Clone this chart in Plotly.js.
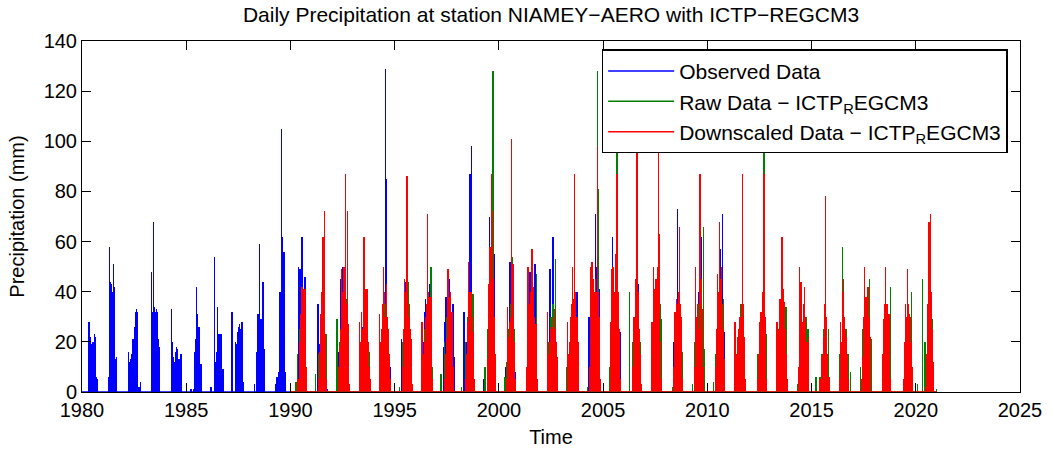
<!DOCTYPE html>
<html>
<head>
<meta charset="utf-8">
<script src="https://cdn.plot.ly/plotly-3.0.1.min.js"></script>
<style>
html,body{margin:0;padding:0;background:#fff;}
#chart{width:1052px;height:449px;}
</style>
</head>
<body>
<div id="chart"></div>
<script>
// Observed daily precipitation (mm) – rain days
const obsDate = [
1980.33,1980.37,1980.41,1980.45,1980.49,1980.53,1980.57,1980.61,1980.65,1980.69,1980.73,
1981.28,1981.33,1981.36,1981.40,1981.43,1981.46,1981.50,1981.53,1981.57,1981.62,1981.67,
1982.24,1982.29,1982.33,1982.37,1982.41,1982.45,1982.48,1982.53,1982.57,1982.60,1982.63,1982.66,1982.74,1982.80,
1983.32,1983.35,1983.38,1983.43,1983.46,1983.49,1983.53,1983.56,1983.59,1983.62,1983.67,1983.72,
1984.30,1984.34,1984.37,1984.41,1984.44,1984.48,1984.52,1984.55,1984.59,1984.62,1984.66,1984.72,1984.77,
1985.23,1985.36,1985.41,1985.46,1985.50,1985.55,1985.58,1985.62,1985.65,1985.71,
1986.19,1986.37,1986.41,1986.46,1986.51,1986.54,1986.58,1986.62,1986.66,1986.70,1986.76,1986.80,
1987.20,1987.37,1987.42,1987.46,1987.51,1987.55,1987.61,1987.68,1987.74,
1988.28,1988.40,1988.45,1988.48,1988.52,1988.56,1988.59,1988.64,1988.69,1988.73,1988.76,
1989.28,1989.36,1989.42,1989.47,1989.52,1989.58,1989.63,1989.66,1989.69,1989.75,
1990.33,1990.39,1990.46,1990.51,1990.55,1990.59,1990.62,1990.66,1990.73,1990.78,
1991.32,1991.39,1991.45,1991.52,1991.58,1991.65,1991.72,1991.75,
1992.31,1992.35,1992.39,1992.45,1992.52,1992.58,1992.64,1992.70,
1993.30,1993.47,1993.55,1993.62,1993.68,1993.75,
1994.30,1994.36,1994.42,1994.48,1994.55,1994.61,1994.65,1994.69,1994.75,1994.80,
1995.32,1995.38,1995.43,1995.48,1995.52,1995.58,1995.64,1995.70,1995.75,
1996.38,1996.42,1996.47,1996.52,1996.58,1996.62,1996.66,1996.72,1996.78,1996.82,
1997.34,1997.41,1997.46,1997.52,1997.57,1997.62,1997.68,1997.74,1997.80,1997.87,
1998.32,1998.38,1998.44,1998.49,1998.54,1998.61,1998.65,1998.70,1998.75,1998.81,
1999.28,1999.44,1999.50,1999.55,1999.60,1999.66,1999.72,1999.77,1999.82,
2000.34,2000.40,2000.46,2000.54,2000.59,2000.64,2000.69,2000.73,2000.79,
2001.34,2001.42,2001.50,2001.56,2001.63,2001.69,2001.74,2001.80,
2002.40,2002.46,2002.52,2002.59,2002.64,2002.68,2002.74,2002.81,
2003.42,2003.48,2003.55,2003.62,2003.68,2003.75,2003.80,
2004.33,2004.40,2004.47,2004.55,2004.62,2004.68,2004.75,2004.81,
2005.35,2005.46,2005.52,2005.60,2005.68,2005.75,2005.82,
2006.45,2006.52,2006.60,2006.69,2006.75,
2007.40,2007.50,2007.58,2007.65,2007.73,
2008.40,2008.48,2008.58,2008.64,2008.70,2008.76,
2009.38,2009.45,2009.51,2009.57,2009.63,2009.68,2009.73,2009.78,
2010.42,2010.48,2010.55,2010.62,2010.67,2010.73,2010.81
];
const obsMm = [
28,21,22,19,18,20,19,23,22,6,5,
6,58,44,43,39,40,51,42,40,13,14,
16,12,13,15,15,21,21,26,32,33,30,32,2,4,
48,28,32,68,32,34,32,33,32,31,21,18,
33,20,14,12,12,16,18,17,12,10,13,15,15,
1,1,16,21,42,31,26,26,15,11,
2,54,12,16,34,23,23,22,23,9,9,9,
32,20,19,24,26,27,25,28,4,
3,16,31,31,59,29,29,28,44,17,6,
3,6,8,40,40,105,62,30,56,8,
12,50,49,49,62,40,37,46,46,5,
35,19,20,30,25,20,14,1,
16,20,45,30,50,30,25,10,
5,26,25,20,25,18,
10,25,20,30,129,85,30,24,15,10,
21,8,10,25,44,30,20,15,23,
20,32,37,25,30,25,43,20,15,10,
18,28,38,30,35,45,30,25,35,14,
32,16,20,30,52,87,45,98,25,1,
5,18,28,70,40,35,30,55,10,
10,15,20,52,30,44,25,16,8,
5,30,48,35,42,30,51,10,
20,49,30,62,30,24,15,2,
24,20,30,35,30,40,10,
30,25,30,40,71,50,40,41,
20,62,35,40,45,30,24,
20,25,30,43,20,
20,30,35,30,22,
20,30,73,40,25,15,
14,25,30,40,35,30,62,20,
13,25,35,57,40,71,24
];

// Raw RegCM3 daily precipitation (mm)
const rawDate = [
1990.27,1990.35,1990.45,1990.55,1990.65,1990.72,
1991.19,1991.35,1991.45,1991.55,1991.64,1991.72,
1992.23,1992.35,1992.45,1992.55,1992.64,1992.70,1992.76,
1993.35,1993.45,1993.52,1993.59,1993.66,1993.72,1993.77,
1994.36,1994.45,1994.55,1994.62,1994.68,1994.74,
1995.24,1995.40,1995.50,1995.57,1995.64,1995.70,1995.76,
1996.35,1996.45,1996.55,1996.65,1996.74,1996.80,
1997.22,1997.40,1997.50,1997.60,1997.68,1997.75,
1998.22,1998.40,1998.50,1998.60,1998.68,1998.75,
1999.34,1999.45,1999.55,1999.63,1999.71,1999.76,
2000.29,2000.35,2000.45,2000.55,2000.65,2000.72,
2001.40,2001.50,2001.60,2001.70,2001.79,
2002.40,2002.50,2002.60,2002.67,2002.73,2002.80,
2003.27,2003.40,2003.50,2003.60,2003.68,2003.75,
2004.25,2004.40,2004.50,2004.60,2004.68,2004.74,2004.77,
2005.30,2005.40,2005.50,2005.60,2005.67,2005.70,2005.74,
2006.28,2006.40,2006.50,2006.60,2006.68,2006.77,
2007.35,2007.45,2007.55,2007.65,2007.74,2007.81,
2008.32,2008.42,2008.52,2008.62,2008.72,2008.82,
2009.30,2009.40,2009.50,2009.60,2009.70,2009.81,2009.85,
2010.29,2010.40,2010.50,2010.60,2010.68,2010.77,
2011.35,2011.45,2011.55,2011.62,2011.72,2011.78,
2012.40,2012.50,2012.60,2012.72,2012.75,2012.81,
2013.33,2013.45,2013.55,2013.65,2013.72,2013.78,
2014.31,2014.42,2014.52,2014.62,2014.70,2014.76,2014.83,
2015.21,2015.40,2015.50,2015.60,2015.70,2015.80,
2016.35,2016.47,2016.55,2016.65,2016.75,2016.88,
2017.35,2017.45,2017.55,2017.65,2017.77,2017.85,
2018.41,2018.50,2018.58,2018.66,2018.72,2018.79,
2019.40,2019.50,2019.58,2019.66,2019.73,2019.80,
2020.09,2020.33,2020.45,2020.55,2020.65,2020.72,2020.79,2020.99
];
const rawMm = [
4,15,25,30,28,10,
7,15,25,35,30,23,
29,20,30,40,35,37,20,
10,25,30,40,30,20,16,
4,20,35,30,20,11,
2,20,30,47,44,20,10,
15,25,30,35,50,10,
7,20,30,35,30,23,
2,20,30,35,30,39,
10,25,35,40,128,30,
6,12,25,35,54,25,
20,30,35,30,47,
20,30,35,30,53,10,
10,20,30,35,30,25,
2,20,30,40,35,128,81,
10,20,30,35,112,72,40,
40,20,30,35,30,20,
15,25,35,30,35,29,
2,20,30,30,35,16,
3,20,30,35,35,66,17,
4,15,30,35,35,37,
15,20,30,35,15,5,
15,20,25,105,30,23,
4,20,30,35,30,34,
3,20,30,30,25,30,25,
6,6,15,25,30,25,
15,58,30,25,15,8,
10,25,30,30,45,21,
4,25,30,30,25,42,
5,20,30,30,25,40,
3,45,20,30,35,30,29,1
];

// Downscaled RegCM3 daily precipitation (mm)
const dsDate = [
1990.36,1990.43,1990.47,1990.51,1990.55,1990.59,1990.62,1990.66,1990.70,1990.75,
1991.36,1991.40,1991.43,1991.47,1991.51,1991.56,1991.60,1991.64,1991.69,1991.74,
1992.30,1992.34,1992.40,1992.45,1992.49,1992.53,1992.57,1992.60,1992.63,1992.67,1992.71,1992.74,1992.79,1992.84,
1993.32,1993.37,1993.41,1993.45,1993.49,1993.53,1993.57,1993.62,1993.66,1993.69,1993.74,1993.78,1993.83,
1994.28,1994.33,1994.38,1994.42,1994.47,1994.51,1994.55,1994.60,1994.64,1994.68,1994.72,1994.77,
1995.38,1995.42,1995.47,1995.51,1995.55,1995.59,1995.62,1995.65,1995.70,1995.75,1995.80,1995.85,
1996.31,1996.37,1996.42,1996.47,1996.52,1996.58,1996.62,1996.66,1996.69,1996.73,1996.77,1996.82,
1997.42,1997.47,1997.51,1997.56,1997.60,1997.63,1997.67,1997.71,1997.75,1997.80,
1998.40,1998.44,1998.48,1998.54,1998.58,1998.62,1998.66,1998.70,1998.74,1998.78,1998.82,
1999.45,1999.49,1999.52,1999.55,1999.58,1999.63,1999.66,1999.69,1999.73,1999.77,1999.82,
2000.37,2000.41,2000.46,2000.51,2000.56,2000.61,2000.64,2000.67,2000.71,2000.76,2000.81,
2001.35,2001.39,2001.43,2001.47,2001.52,2001.55,2001.58,2001.63,2001.67,2001.72,2001.78,2001.83,
2002.33,2002.38,2002.43,2002.48,2002.52,2002.57,2002.62,2002.66,2002.71,2002.75,2002.79,
2003.29,2003.35,2003.40,2003.45,2003.49,2003.53,2003.58,2003.62,2003.66,2003.69,2003.74,2003.78,2003.82,
2004.35,2004.39,2004.43,2004.47,2004.51,2004.55,2004.60,2004.64,2004.69,2004.73,2004.77,2004.81,2004.86,
2005.34,2005.39,2005.43,2005.48,2005.53,2005.57,2005.62,2005.66,2005.69,2005.74,2005.78,2005.83,
2006.40,2006.45,2006.49,2006.53,2006.57,2006.62,2006.65,2006.69,2006.72,2006.77,2006.82,
2007.34,2007.38,2007.41,2007.45,2007.49,2007.53,2007.58,2007.62,2007.65,2007.68,2007.72,2007.76,2007.80,
2008.40,2008.45,2008.49,2008.53,2008.57,2008.62,2008.66,2008.70,2008.73,2008.77,2008.82,
2009.40,2009.44,2009.48,2009.52,2009.57,2009.61,2009.65,2009.69,2009.72,2009.75,2009.80,
2010.40,2010.44,2010.48,2010.52,2010.57,2010.61,2010.64,2010.67,2010.71,2010.75,2010.80,
2011.33,2011.38,2011.44,2011.49,2011.54,2011.59,2011.65,2011.70,2011.73,2011.76,2011.81,
2012.40,2012.45,2012.49,2012.53,2012.57,2012.60,2012.63,2012.67,2012.72,2012.76,2012.81,
2013.35,2013.40,2013.44,2013.48,2013.52,2013.55,2013.59,2013.63,2013.66,2013.71,2013.76,2013.80,2013.85,
2014.38,2014.43,2014.49,2014.52,2014.55,2014.60,2014.65,2014.68,2014.72,2014.77,2014.82,2014.86,
2015.40,2015.47,2015.52,2015.56,2015.60,2015.64,2015.68,2015.73,2015.78,2015.84,
2016.35,2016.39,2016.43,2016.47,2016.52,2016.57,2016.61,2016.65,2016.70,2016.76,
2017.40,2017.45,2017.49,2017.53,2017.57,2017.61,2017.65,2017.70,2017.75,2017.79,2017.83,
2018.40,2018.43,2018.47,2018.51,2018.55,2018.59,2018.63,2018.67,2018.71,2018.75,2018.80,
2019.43,2019.47,2019.51,2019.56,2019.61,2019.65,2019.68,2019.72,2019.75,2019.80,2019.85,
2020.43,2020.51,2020.55,2020.60,2020.64,2020.67,2020.71,2020.75,2020.79,2020.83
];
const dsMm = [
5,20,31,30,42,35,41,38,41,10,
5,16,31,30,40,62,45,72,23,5,
10,18,25,49,40,45,50,40,87,30,35,72,27,3,
28,20,32,25,30,62,35,41,38,41,20,10,5,
31,20,25,35,50,40,30,43,30,25,15,5,
10,25,45,35,40,86,40,30,35,25,21,3,
28,15,20,30,35,71,40,35,38,30,38,5,
5,15,21,49,38,35,40,30,32,10,
5,15,28,52,40,35,40,40,30,24,5,
13,30,43,45,58,87,50,72,45,30,15,
5,34,22,28,30,101,40,51,30,20,5,
10,50,30,35,40,45,57,42,35,30,27,5,
32,15,20,25,26,26,30,33,25,20,14,
28,15,20,30,35,50,37,87,40,36,30,25,20,
10,50,40,52,45,35,40,45,40,98,40,30,5,
28,20,49,50,35,40,55,87,71,40,25,5,
10,25,30,29,45,105,78,40,25,15,3,
28,20,50,35,41,45,40,50,100,63,35,20,5,
10,32,30,37,35,40,66,35,30,20,5,
10,50,30,35,25,40,87,45,35,33,10,
10,25,47,40,68,45,40,50,35,25,13,
28,15,22,25,30,35,30,87,35,22,5,
5,15,28,25,32,30,27,40,87,30,5,
28,15,25,37,30,35,62,40,41,36,25,15,5,
10,50,44,35,28,35,42,30,25,20,20,22,
5,14,15,20,22,35,78,30,15,6,
5,28,20,40,45,30,25,22,15,5,
5,14,30,50,35,38,30,42,30,25,22,
5,15,29,35,50,35,35,30,31,20,5,
5,20,35,30,49,35,31,30,26,20,10,
2,15,35,30,68,50,71,40,25,12
];

const seriesNames = ['Observed Data', 'Raw Data \u2212 ICTP<sub>R</sub>EGCM3', 'Downscaled Data \u2212 ICTP<sub>R</sub>EGCM3'];
const seriesColors = ['#0000ff', '#008000', '#ff0000'];
const xTicks = [1980, 1985, 1990, 1995, 2000, 2005, 2010, 2015, 2020, 2025];
const yTicks = [0, 20, 40, 60, 80, 100, 120, 140];

const series = [[obsDate, obsMm], [rawDate, rawMm], [dsDate, dsMm]];
const traces = [];
series.forEach(function (s, i) {
  traces.push({
    type: 'bar', x: s[0], y: s[1], width: 0.065,
    marker: {color: seriesColors[i], line: {width: 0}},
    showlegend: false, hoverinfo: 'skip'
  });
});
series.forEach(function (s, i) {
  const lo = Math.floor(Math.min.apply(null, s[0]));
  const hi = Math.ceil(Math.max.apply(null, s[0]));
  traces.push({
    type: 'scatter', mode: 'lines', x: [lo, hi], y: [0, 0],
    line: {color: seriesColors[i], width: 1.5},
    name: seriesNames[i], hoverinfo: 'skip'
  });
});

const axisCommon = {
  ticks: 'inside', ticklen: 9, tickwidth: 1, tickcolor: '#000',
  showline: true, linecolor: '#000', linewidth: 1, mirror: 'ticks',
  showgrid: false, zeroline: false, tickfont: {size: 20, color: '#000'}
};

const layout = {
  width: 1052, height: 449,
  margin: {l: 82, r: 32, t: 41, b: 57},
  paper_bgcolor: '#ffffff', plot_bgcolor: '#ffffff',
  font: {family: 'Liberation Sans, Arial, Helvetica, sans-serif', size: 20, color: '#000'},
  title: {text: 'Daily Precipitation at station NIAMEY\u2212AERO with ICTP\u2212REGCM3',
          xref: 'paper', x: 0.5, xanchor: 'center', yref: 'container', y: 1 - 15 / 449, yanchor: 'middle',
          font: {size: 21, color: '#000'}},
  barmode: 'overlay', bargap: 0,
  xaxis: Object.assign({}, axisCommon, {range: [1980, 2025], tickvals: xTicks, ticktext: xTicks.map(String),
          title: {text: 'Time', font: {size: 20}, standoff: 9}}),
  yaxis: Object.assign({}, axisCommon, {range: [0, 140], tickvals: yTicks, ticktext: yTicks.map(String),
          title: {text: 'Precipitation (mm)', font: {size: 20}, standoff: 13}}),
  legend: {x: 0.554, y: 0.976, xanchor: 'left', yanchor: 'top', bgcolor: '#ffffff',
           bordercolor: '#000', borderwidth: 1.5, font: {size: 21, color: '#000'}, itemwidth: 66,
           tracegroupgap: 0},
  showlegend: true
};

Plotly.newPlot('chart', traces, layout, {displayModeBar: false, staticPlot: true});
</script>
</body>
</html>
